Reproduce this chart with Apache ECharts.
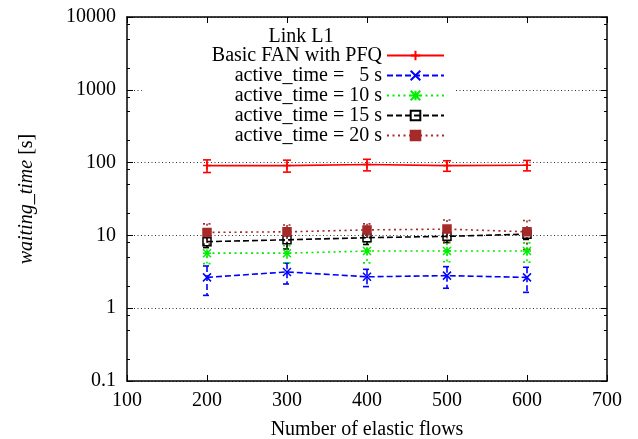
<!DOCTYPE html>
<html><head><meta charset="utf-8">
<script src="https://cdn.jsdelivr.net/npm/echarts@6/dist/echarts.min.js"></script>
<style>html,body{margin:0;padding:0;background:#fff}#c{width:638px;height:439px}</style>
</head><body><div id="c"></div>
<script>
const flows = [200, 300, 400, 500, 600];
const seriesNames = ['Basic FAN with PFQ', 'active_time =   5 s', 'active_time = 10 s', 'active_time = 15 s', 'active_time = 20 s'];
const basicFan = [91, 91, 94, 91, 92];
const basicFanErr = [18, 17, 17, 15, 15];
const active5 = [2.65, 3.15, 2.7, 2.8, 2.65];
const active5Err = [1.15, 1.0, 0.72, 0.92, 1.0];
const active10 = [5.7, 5.7, 6.1, 6.1, 6.1];
const active10Err = [1.6, 1.5, 1.9, 1.75, 1.8];
const active15 = [8.2, 8.7, 9.3, 9.7, 10.4];
const active15Err = [1.4, 2.2, 1.8, 1.7, 1.6];
const active20 = [11.0, 11.2, 11.9, 12.2, 11.2];
const active20Err = [3.4, 2.7, 2.5, 4.1, 4.8];
const yMajorTicks = [0.1, 1, 10, 100, 1000, 10000];
const yMinorFactors = [2, 5, 8];
const xTicks = [100, 200, 300, 400, 500, 600, 700];

const FONT = 'Liberation Serif';
const values = [basicFan, active5, active10, active15, active20];
const errs = [basicFanErr, active5Err, active10Err, active15Err, active20Err];
const colors = ['#ff0000', '#0000ff', '#00ee00', '#000000', '#a52a2a'];
const dashes = ['solid', [6, 3], [2, 3.5], [6, 3], [2, 3.5]];
const symbols = [
  'path://M0,5L10,5M5,0L5,10',
  'path://M0,0L10,10M10,0L0,10',
  'path://M0,0L10,10M10,0L0,10M5,0L5,10M0,5L10,5',
  'path://M0,0L10,0L10,10L0,10Z',
  'rect'
];
const symFill = ['#ff0000', 'transparent', 'transparent', 'transparent', '#a52a2a'];

const minorVals = [];
for (let k = -1; k < 4; k++) {
  yMinorFactors.forEach(f => minorVals.push(+(f * Math.pow(10, k)).toPrecision(3)));
}

const series = [];
values.forEach((v, i) => {
  series.push({
    name: seriesNames[i], type: 'line', xAxisIndex: 0, yAxisIndex: 0,
    data: flows.map((x, j) => [x, v[j]]),
    symbol: symbols[i], symbolSize: 8, showSymbol: true,
    lineStyle: { color: colors[i], width: 1.6, type: dashes[i] },
    itemStyle: { color: symFill[i], borderColor: colors[i], borderWidth: 1.5 },
    z: 3, animation: false
  });
  series.push({
    type: 'custom', xAxisIndex: 0, yAxisIndex: 0, z: 2, animation: false,
    data: flows.map((x, j) => [x, v[j], errs[i][j]]),
    encode: { x: 0, y: 1 },
    renderItem: function (params, api) {
      const x = api.value(0), y = api.value(1), e = api.value(2);
      const t = api.coord([x, y + e]);
      const b = api.coord([x, y - e]);
      const hw = 4;
      const st = { stroke: colors[i], lineWidth: 1.6, lineDash: dashes[i] === 'solid' ? null : dashes[i] };
      return { type: 'group', children: [
        { type: 'line', shape: { x1: t[0], y1: t[1], x2: b[0], y2: b[1] }, style: st },
        { type: 'line', shape: { x1: t[0] - hw, y1: t[1], x2: t[0] + hw, y2: t[1] }, style: st },
        { type: 'line', shape: { x1: b[0] - hw, y1: b[1], x2: b[0] + hw, y2: b[1] }, style: st }
      ]};
    }
  });
});

const axisLine = { show: true, lineStyle: { color: '#000', width: 1.5 } };
const chart = echarts.init(document.getElementById('c'), null, { renderer: 'canvas' });
chart.setOption({
  animation: false,
  backgroundColor: '#fff',
  textStyle: { fontFamily: FONT },
  grid: { left: 127, right: 31, top: 17, bottom: 58, outerBoundsMode: 'none', containLabel: false },
  title: { text: 'Link L1', left: 296, top: 22, textAlign: 'center',
    textStyle: { fontFamily: FONT, fontSize: 20, fontWeight: 'normal', color: '#000' } },
  legend: {
    data: seriesNames, orient: 'vertical', align: 'right',
    right: 182, top: 32, padding: [13.5, 11, 10, 70],
    backgroundColor: '#fff', itemWidth: 57, itemHeight: 12, itemGap: 0,
    textStyle: { fontFamily: FONT, fontSize: 20, color: '#000', lineHeight: 19.6 },
    z: 4
  },
  xAxis: [
    { type: 'value', position: 'bottom', min: 100, max: 700, interval: 100,
      axisLine: axisLine, axisTick: { inside: true, length: 6, lineStyle: { color: '#000', width: 1 } },
      axisLabel: { fontFamily: FONT, fontSize: 20, color: '#000', margin: 10 },
      splitLine: { show: false },
      name: 'Number of elastic flows', nameLocation: 'middle', nameGap: 39,
      nameTextStyle: { fontFamily: FONT, fontSize: 20, color: '#000' } },
    { type: 'value', position: 'top', min: 100, max: 700, interval: 100,
      axisLine: axisLine, axisTick: { inside: true, length: 6, lineStyle: { color: '#000', width: 1 } },
      axisLabel: { show: false }, splitLine: { show: false } }
  ],
  yAxis: [
    { type: 'log', logBase: 10, position: 'left', min: 0.1, max: 10000,
      axisLine: axisLine, axisTick: { inside: true, length: 6, lineStyle: { color: '#000', width: 1 } },
      axisLabel: { fontFamily: FONT, fontSize: 20, color: '#000', margin: 11, customValues: yMajorTicks,
        padding: [8, 0, 0, 0],
        formatter: v => String(+(+v).toPrecision(3)) },
      splitLine: { show: true, lineStyle: { color: '#333', width: 1, type: [1, 2.5] } },
      name: '{i|waiting_time} [s]', nameLocation: 'middle', nameRotate: 90, nameGap: 90,
      nameTextStyle: { fontFamily: FONT, fontSize: 20, color: '#000',
        rich: { i: { fontFamily: FONT, fontSize: 20, fontStyle: 'italic', color: '#000' } } } },
    { type: 'log', logBase: 10, position: 'left', min: 0.1, max: 10000,
      axisLine: { show: false }, axisTick: { inside: true, length: 3, customValues: minorVals, lineStyle: { color: '#000', width: 1 } },
      axisLabel: { show: false }, splitLine: { show: false } },
    { type: 'log', logBase: 10, position: 'right', min: 0.1, max: 10000,
      axisLine: axisLine, axisTick: { inside: true, length: 6, lineStyle: { color: '#000', width: 1 } },
      axisLabel: { show: false }, splitLine: { show: false } },
    { type: 'log', logBase: 10, position: 'right', min: 0.1, max: 10000,
      axisLine: { show: false }, axisTick: { inside: true, length: 3, customValues: minorVals, lineStyle: { color: '#000', width: 1 } },
      axisLabel: { show: false }, splitLine: { show: false } }
  ],
  series: series
});
</script></body></html>
